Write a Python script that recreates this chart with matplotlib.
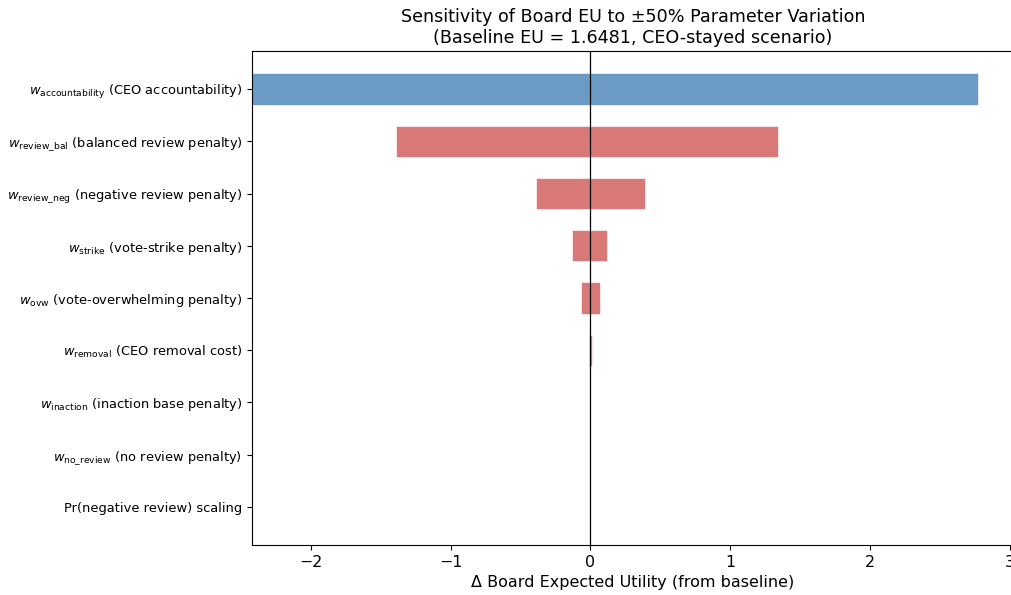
import matplotlib.pyplot as plt
import numpy as np

# Tornado data: change in board EU at -50% / +50% of each parameter
params = [
    r"$w_{\mathrm{accountability}}$ (CEO accountability)",
    r"$w_{\mathrm{review\_bal}}$ (balanced review penalty)",
    r"$w_{\mathrm{review\_neg}}$ (negative review penalty)",
    r"$w_{\mathrm{strike}}$ (vote-strike penalty)",
    r"$w_{\mathrm{ovw}}$ (vote-overwhelming penalty)",
    r"$w_{\mathrm{removal}}$ (CEO removal cost)",
    r"$w_{\mathrm{inaction}}$ (inaction base penalty)",
    r"$w_{\mathrm{no\_review}}$ (no review penalty)",
    "Pr(negative review) scaling",
]
delta_low = [-2.45, -1.39, -0.39, -0.13, -0.07, -0.01, 0.0, 0.0, 0.0]
delta_high = [2.77, 1.34, 0.39, 0.12, 0.07, 0.01, 0.0, 0.0, 0.0]
bar_colors = ["#3a78b0", "#cc4c4a", "#cc4c4a", "#cc4c4a", "#cc4c4a",
              "#cc4c4a", "#cc4c4a", "#cc4c4a", "#cc4c4a"]

BASELINE_EU = 1.6481

fig = plt.figure(figsize=(10.12, 5.95), dpi=100)
ax = fig.add_axes([252 / 1012, 50 / 595, 762 / 1012, 494 / 595])

y = np.arange(len(params))
lo = np.array(delta_low)
hi = np.array(delta_high)
ax.barh(y, hi - lo, left=lo, height=0.6, color=bar_colors, alpha=0.75,
        edgecolor="white", linewidth=0.6)

ax.axvline(0, color="black", linewidth=0.9)

ax.set_yticks(y)
ax.set_yticklabels(params, fontsize=9.4)
ax.invert_yaxis()
ax.set_xlim(-2.42, 3.03)
ax.tick_params(axis="x", labelsize=11.4)

ax.set_xlabel("Δ Board Expected Utility (from baseline)", fontsize=11.5)
ax.set_title("Sensitivity of Board EU to ±50% Parameter Variation\n"
             f"(Baseline EU = {BASELINE_EU:.4f}, CEO-stayed scenario)",
             fontsize=12.6)

fig.savefig("out.png", dpi=100)
